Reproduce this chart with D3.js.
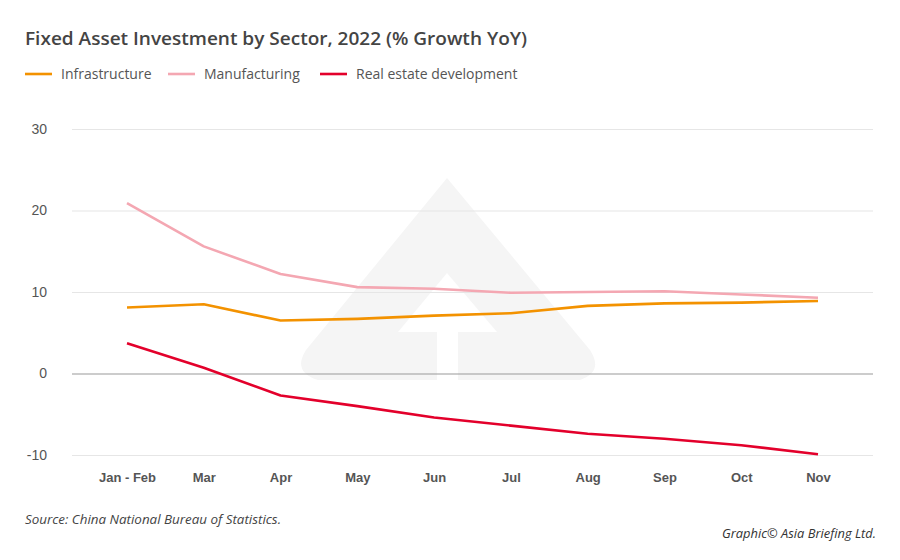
<!DOCTYPE html>
<html><head><meta charset="utf-8">
<script src="https://cdn.jsdelivr.net/npm/d3@7/dist/d3.min.js"></script>
<style>
body{margin:0;background:#fff;}
svg{display:block;font-family:"Open Sans","Noto Sans",sans-serif;}
</style></head>
<body><svg id="c" width="900" height="560"></svg>
<script>
const months = ["Jan - Feb","Mar","Apr","May","Jun","Jul","Aug","Sep","Oct","Nov"];
const infrastructure = [8.1, 8.5, 6.5, 6.7, 7.1, 7.4, 8.3, 8.6, 8.7, 8.9];
const manufacturing = [20.9, 15.6, 12.2, 10.6, 10.4, 9.9, 10.0, 10.1, 9.7, 9.3];
const realEstate = [3.7, 0.7, -2.7, -4.0, -5.4, -6.4, -7.4, -8.0, -8.8, -9.9];
const yTicks = [-10, 0, 10, 20, 30];
const seriesNames = ["Infrastructure","Manufacturing","Real estate development"];
const seriesColors = ["#f39200","#f4a7b2","#e3002b"];

const svg = d3.select("#c");
const x = d3.scalePoint().domain(months).range([127, 818]);
const y = d3.scaleLinear().domain([-10, 30]).range([455, 129]);

// watermark logo
const wm = svg.append("g");
wm.append("path")
  .attr("d","M447,178 L590,350 Q604,372 580,380 L318,380 Q292,372 306,350 Z")
  .attr("fill","#f5f5f5");
wm.append("path")
  .attr("d","M447,273 L497,332 L458,332 L458,382 L437,382 L437,332 L398,332 Z")
  .attr("fill","#ffffff");

// grid
const yAxis = d3.axisLeft(y).tickValues(yTicks).tickFormat(d => String(d)).tickSize(-(873-72)).tickPadding(25);
const gy = svg.append("g").attr("transform","translate(72,0)").call(yAxis);
gy.select(".domain").remove();
gy.selectAll(".tick line").attr("stroke", d => d === 0 ? "#9a9a9a" : "#e6e6e6").attr("stroke-width",1.2);
gy.selectAll(".tick text").attr("fill","#555").style("font-size","14px").attr("x",-25);

const xAxis = d3.axisBottom(x).tickSize(0).tickPadding(0);
const gx = svg.append("g").attr("transform","translate(0,477)").call(xAxis);
gx.select(".domain").remove();
gx.selectAll(".tick text").attr("fill","#555").style("font-size","13px").style("font-weight","600").attr("dy","0.35em");

const line = d3.line().x((d,i)=>x(months[i])).y(d=>y(d));
[infrastructure, manufacturing, realEstate].forEach((s,k)=>{
  svg.append("path").datum(s).attr("d",line).attr("fill","none")
    .attr("stroke",seriesColors[k]).attr("stroke-width",2.6).attr("stroke-linejoin","round");
});

// title
svg.append("text").attr("x",25).attr("y",45).attr("fill","#444")
  .style("font-size","18.5px").style("font-weight","600")
  .attr("textLength",502).attr("lengthAdjust","spacingAndGlyphs")
  .text("Fixed Asset Investment by Sector, 2022 (% Growth YoY)");

// legend
const legX = [25, 168, 320];
seriesNames.forEach((n,k)=>{
  const g = svg.append("g").attr("transform",`translate(${legX[k]},74)`);
  g.append("line").attr("x1",0).attr("x2",27).attr("y1",0).attr("y2",0)
    .attr("stroke",seriesColors[k]).attr("stroke-width",2.6);
  g.append("text").attr("x",36).attr("y",5).attr("fill","#555").style("font-size","14px").text(n);
});

// footer
svg.append("text").attr("x",25).attr("y",524).attr("fill","#444")
  .style("font-size","12.5px").style("font-style","italic")
  .attr("textLength",256).attr("lengthAdjust","spacingAndGlyphs")
  .text("Source: China National Bureau of Statistics.");
svg.append("text").attr("x",722).attr("y",538).attr("fill","#333")
  .style("font-size","13px").style("font-style","italic")
  .attr("textLength",154).attr("lengthAdjust","spacingAndGlyphs")
  .text("Graphic© Asia Briefing Ltd.");
</script></body></html>
